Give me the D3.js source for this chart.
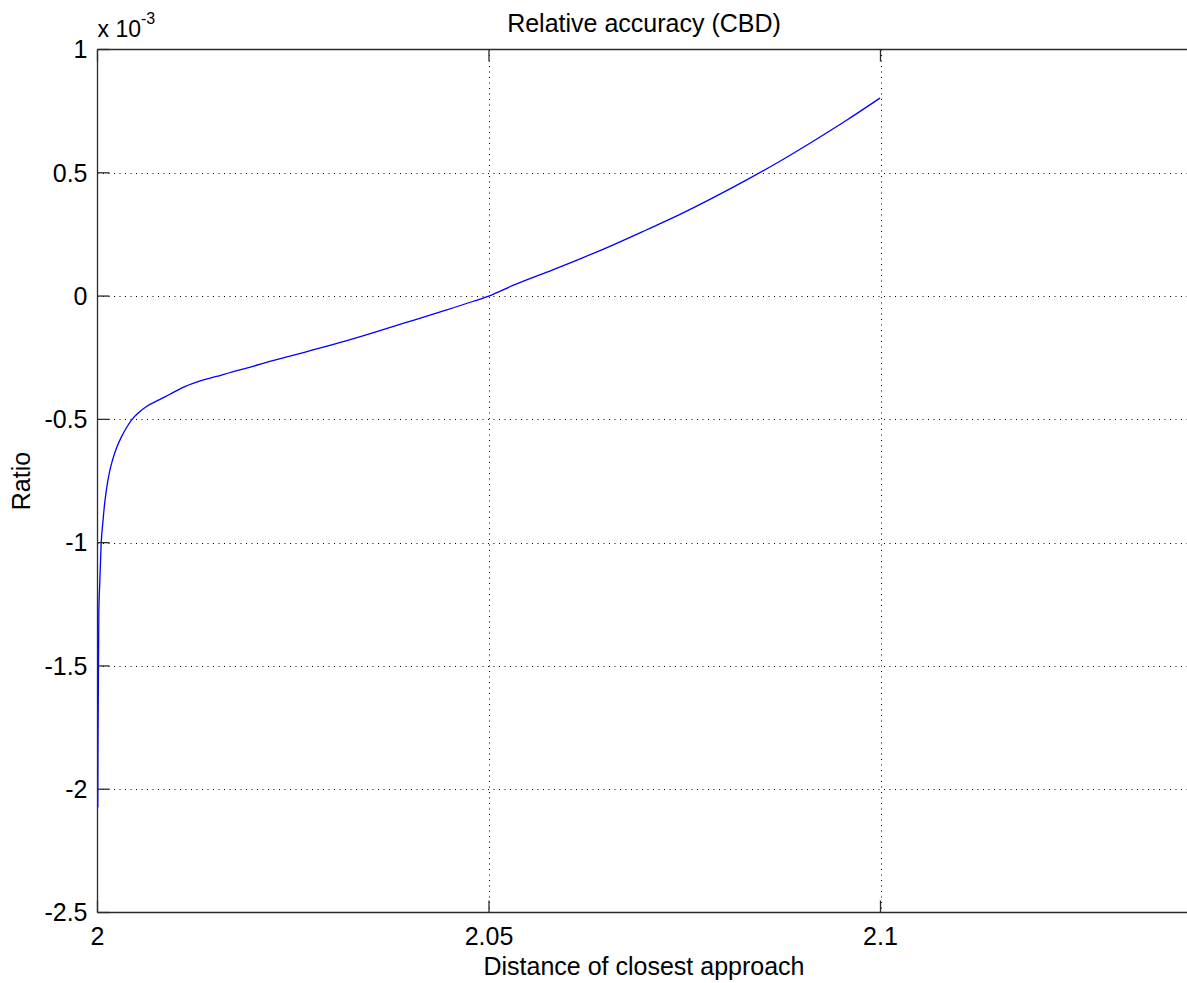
<!DOCTYPE html>
<html>
<head>
<meta charset="utf-8">
<script src="https://cdn.jsdelivr.net/npm/d3@7"></script>
<style>
  html, body { margin: 0; padding: 0; background: #fff; }
  svg { display: block; }
  text { font-family: "Liberation Sans", Arial, sans-serif; fill: #000; }
</style>
</head>
<body>
<svg id="chart" width="1187" height="983"></svg>
<script>
// Distance of closest approach (x) and the relative accuracy ratio (in units of 1e-3)
const distance = [
  2.00004, 2.00006, 2.00017, 2.00029, 2.00047, 2.00068, 2.00089, 2.00115,
  2.00153, 2.00192, 2.00243, 2.00307, 2.00370, 2.00434, 2.00536, 2.00626,
  2.00792, 2.00920, 2.01086, 2.01264, 2.01520, 2.01724, 2.01916, 2.02239,
  2.02665, 2.03091, 2.03516, 2.03943, 2.04368, 2.04793, 2.05006, 2.05304,
  2.05730, 2.06156, 2.06581, 2.07008, 2.07433, 2.07858, 2.08285, 2.08710,
  2.09135, 2.09562, 2.09994
];
const ratio = [
  -2.074, -1.829, -1.285, -1.164, -1.002, -0.920, -0.848, -0.783,
  -0.714, -0.665, -0.616, -0.570, -0.534, -0.503, -0.470, -0.448,
  -0.420, -0.399, -0.371, -0.349, -0.326, -0.307, -0.291, -0.262,
  -0.226, -0.189, -0.149, -0.107, -0.065, -0.022, 0.001, 0.043,
  0.096, 0.150, 0.207, 0.268, 0.330, 0.398, 0.470, 0.546,
  0.627, 0.712, 0.803
];

const xTicks = [2, 2.05, 2.1];
const xTickLabels = ["2", "2.05", "2.1"];
const yTicks = [1, 0.5, 0, -0.5, -1, -1.5, -2, -2.5];
const yTickLabels = ["1", "0.5", "0", "-0.5", "-1", "-1.5", "-2", "-2.5"];

const titleText = "Relative accuracy (CBD)";
const xLabelText = "Distance of closest approach";
const yLabelText = "Ratio";

const svg = d3.select("#chart");

const plotL = 97.5, plotT = 49.5, plotB = 912.5, plotR = 1193.7;
const x = d3.scaleLinear().domain([2, 2.14]).range([plotL, plotR]);
const y = d3.scaleLinear().domain([-2.5, 1]).range([plotB, plotT]);

const tickLen = 12;
const fontSize = 25;
const midX = 644;

// dotted grid
const grid = svg.append("g")
  .attr("stroke", "#000")
  .attr("stroke-width", 1)
  .attr("stroke-dasharray", "1,4.5");
grid.selectAll("line.gx").data(xTicks.filter(v => v > 2)).join("line")
  .attr("x1", d => Math.round(x(d)) + 0.5).attr("x2", d => Math.round(x(d)) + 0.5)
  .attr("y1", plotT).attr("y2", plotB);
grid.selectAll("line.gy").data(yTicks.filter(v => v < 1 && v > -2.5)).join("line")
  .attr("y1", d => Math.round(y(d)) + 0.5).attr("y2", d => Math.round(y(d)) + 0.5)
  .attr("x1", plotL).attr("x2", plotR);

// curve
const pts = distance.map((d, i) => [d, ratio[i]]);
svg.append("path")
  .datum(pts)
  .attr("fill", "none")
  .attr("stroke", "#0000ff")
  .attr("stroke-width", 1.3)
  .attr("d", d3.line().x(d => x(d[0])).y(d => y(d[1])).curve(d3.curveMonotoneX));

// axes box and inward ticks
const axisColor = "#2b2b2b";
const ax = svg.append("g").attr("stroke", axisColor).attr("stroke-width", 1.3);
ax.append("line").attr("x1", plotL).attr("x2", plotR).attr("y1", plotT).attr("y2", plotT);
ax.append("line").attr("x1", plotL).attr("x2", plotR).attr("y1", plotB).attr("y2", plotB);
ax.append("line").attr("x1", plotL).attr("x2", plotL).attr("y1", plotT).attr("y2", plotB);
ax.selectAll("line.xtb").data(xTicks).join("line")
  .attr("x1", d => x(d)).attr("x2", d => x(d))
  .attr("y1", plotB).attr("y2", plotB - tickLen);
ax.selectAll("line.xtt").data(xTicks).join("line")
  .attr("x1", d => x(d)).attr("x2", d => x(d))
  .attr("y1", plotT).attr("y2", plotT + tickLen);
ax.selectAll("line.yt").data(yTicks).join("line")
  .attr("y1", d => y(d)).attr("y2", d => y(d))
  .attr("x1", plotL).attr("x2", plotL + tickLen);

// tick labels
svg.append("g").selectAll("text").data(xTicks).join("text")
  .attr("x", d => x(d)).attr("y", plotB + 32)
  .attr("text-anchor", "middle").attr("font-size", fontSize)
  .text((d, i) => xTickLabels[i]);
svg.append("g").selectAll("text").data(yTicks).join("text")
  .attr("x", plotL - 10).attr("y", d => y(d)).attr("dy", "0.35em")
  .attr("text-anchor", "end").attr("font-size", fontSize)
  .text((d, i) => yTickLabels[i]);

// exponent multiplier
const mult = svg.append("text").attr("x", plotL).attr("y", 37).attr("font-size", 23);
mult.append("tspan").text("x 10");
mult.append("tspan").attr("dy", -13).attr("font-size", 16).text("-3");

// title and axis labels
svg.append("text").attr("x", midX).attr("y", 32)
  .attr("text-anchor", "middle").attr("font-size", fontSize).text(titleText);
svg.append("text").attr("x", midX).attr("y", 975)
  .attr("text-anchor", "middle").attr("font-size", fontSize).text(xLabelText);
svg.append("text").attr("transform", `translate(30,${(plotT + plotB) / 2}) rotate(-90)`)
  .attr("text-anchor", "middle").attr("font-size", fontSize).text(yLabelText);
</script>
</body>
</html>
